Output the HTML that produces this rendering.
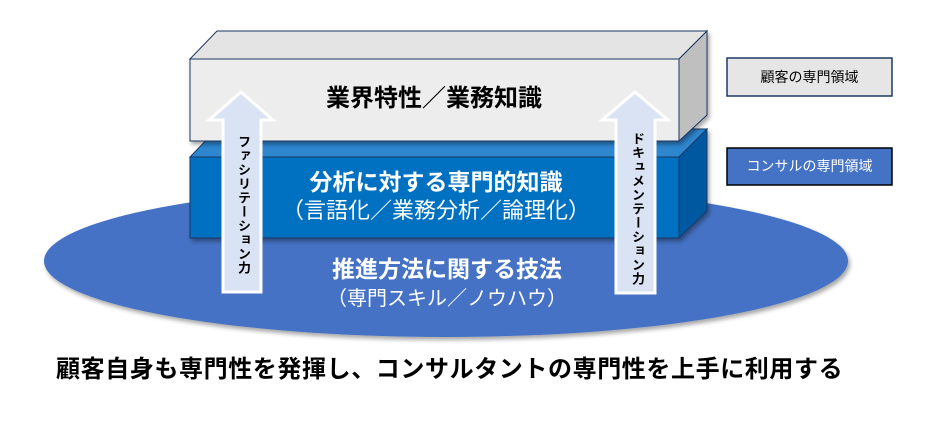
<!DOCTYPE html>
<html><head><meta charset="utf-8"><style>
html,body{margin:0;padding:0;background:#fff;}
body{width:930px;height:430px;position:relative;overflow:hidden;font-family:"Liberation Sans","Noto Sans CJK JP",sans-serif;}
.t{position:absolute;white-space:nowrap;text-align:center;line-height:1;}
.v{position:absolute;writing-mode:vertical-rl;font-weight:bold;font-size:13px;color:#000;letter-spacing:1px;}
</style></head><body>
<svg width="930" height="430" style="position:absolute;left:0;top:0">
<defs><filter id="sh" x="-10%" y="-10%" width="130%" height="140%"><feDropShadow dx="2" dy="3" stdDeviation="2" flood-color="#000" flood-opacity="0.35"/></filter></defs>
<ellipse cx="446" cy="261" rx="402" ry="76" fill="#4472C4" filter="url(#sh)"/>
<g filter="url(#sh)">
<polygon points="190,157 217,129 707,129 679,157" fill="#2E86CF" stroke="#1F3864" stroke-width="1"/>
<polygon points="679,157 707,129 707,211 679,238" fill="#0058A0" stroke="#1F3864" stroke-width="1"/>
<rect x="190" y="157" width="489" height="81" fill="#0070C0" stroke="#1F3864" stroke-width="1"/>
</g>
<g filter="url(#sh)">
<polygon points="190,59 217,31 707,31 679,59" fill="#E4E4E4" stroke="#1F3864" stroke-width="1"/>
<polygon points="679,59 707,31 707,115 679,141" fill="#BFBFBF" stroke="#1F3864" stroke-width="1"/>
<rect x="190" y="59" width="489" height="82" fill="#EDEDED" stroke="#1F3864" stroke-width="1"/>
</g>
<polygon points="241,92 273,120 261,120 261,292 223,292 223,120 209,120" fill="#DAE3F3" stroke="#fff" stroke-width="3"/>
<polygon points="635,92 668,120 655,120 655,293 616,293 616,120 602,120" fill="#DAE3F3" stroke="#fff" stroke-width="3"/>
<rect x="727" y="58" width="165" height="38" fill="#E7E6E6" stroke="#1F3864" stroke-width="1.5"/>
<rect x="727" y="148" width="165" height="37" fill="#4472C4" stroke="#000" stroke-width="1.5"/>
</svg>
<div class="t" style="left:234px;width:400px;top:87px;font-size:24px;font-weight:bold;color:#000;">業界特性／業務知識</div>
<div class="t" style="left:236px;width:400px;top:171px;font-size:23px;font-weight:bold;color:#fff;">分析に対する専門的知識</div>
<div class="t" style="left:236px;width:400px;top:200px;font-size:22px;color:#fff;">（言語化／業務分析／論理化）</div>
<div class="t" style="left:247px;width:400px;top:258px;font-size:23px;font-weight:bold;color:#fff;">推進方法に関する技法</div>
<div class="t" style="left:247px;width:400px;top:289px;font-size:20px;color:#fff;">（専門スキル／ノウハウ）</div>
<div class="v" style="left:234px;top:135px;">ファシリテーション力</div>
<div class="v" style="left:628px;top:132px;">ドキュメンテーション力</div>
<div class="t" style="left:727px;width:165px;top:70px;font-size:14px;color:#000;">顧客の専門領域</div>
<div class="t" style="left:727px;width:165px;top:159px;font-size:14px;color:#fff;">コンサルの専門領域</div>
<div class="t" style="left:56px;top:358px;font-size:24px;font-weight:bold;color:#000;letter-spacing:0.6px;">顧客自身も専門性を発揮し、コンサルタントの専門性を上手に利用する</div>
</body></html>
